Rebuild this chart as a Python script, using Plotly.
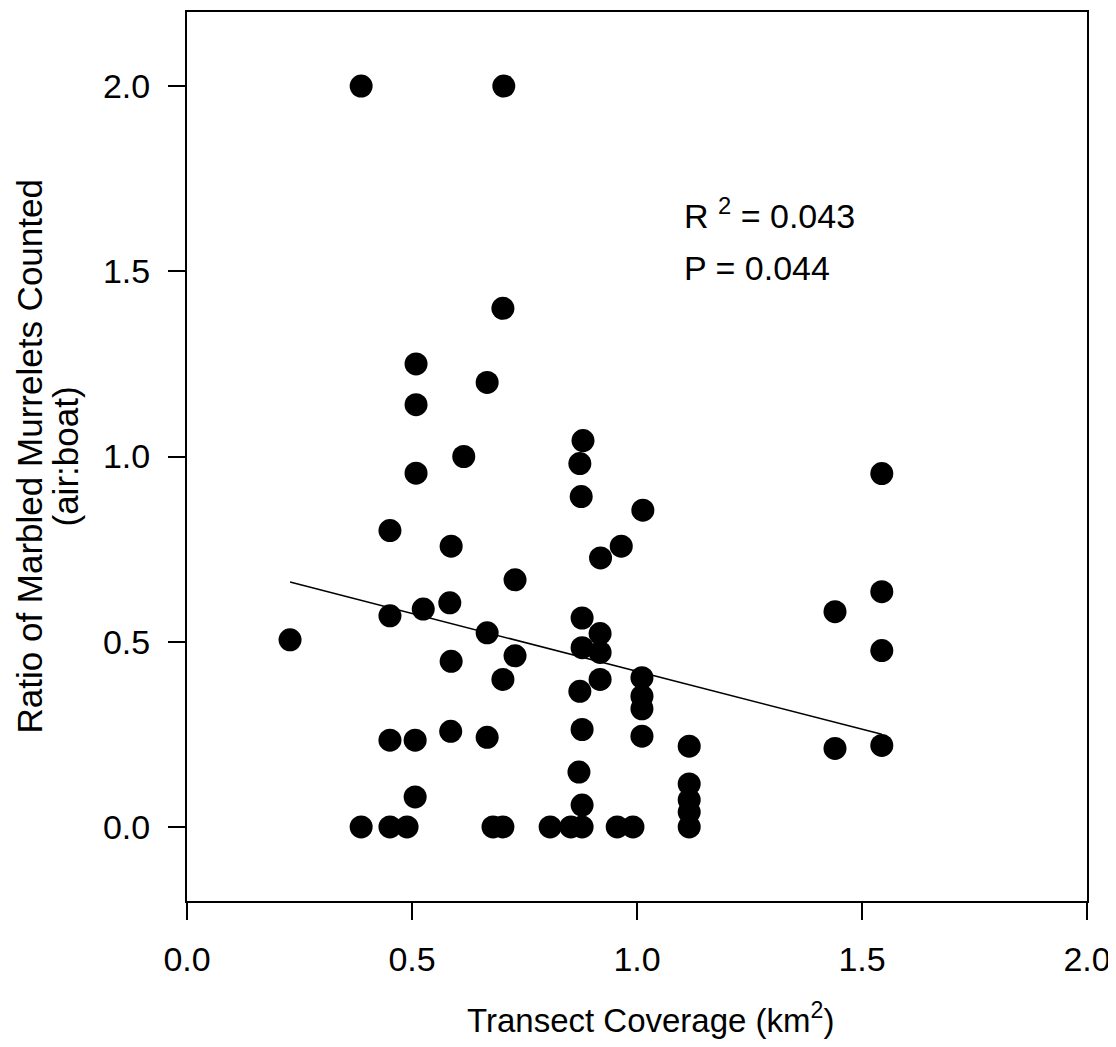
import plotly.graph_objects as go

# Transect coverage (km^2) and ratio of murrelets counted (air:boat)
coverage = [
    0.387, 0.704, 0.702, 0.509, 0.509, 0.667, 0.615, 0.509, 0.451, 0.587,
    0.880, 0.873, 0.876, 1.013, 0.965, 0.919, 0.729, 1.544, 1.544, 1.440,
    1.544, 1.440, 1.544, 0.229, 0.451, 0.525, 0.584, 0.667, 0.587, 0.729,
    0.702, 0.878, 0.918, 0.878, 0.918, 0.918, 0.873, 1.011, 1.011, 1.011,
    1.011, 0.878, 0.451, 0.507, 0.586, 0.667, 1.116, 0.871, 1.116, 1.116,
    1.116, 1.116, 0.878, 0.507,
    0.387, 0.451, 0.489, 0.680, 0.702, 0.807, 0.853, 0.878, 0.956, 0.991,
]
ratio = [
    2.000, 2.000, 1.400, 1.250, 1.140, 1.200, 1.000, 0.955, 0.800, 0.758,
    1.043, 0.981, 0.892, 0.855, 0.758, 0.726, 0.667, 0.954, 0.635, 0.581,
    0.476, 0.212, 0.220, 0.505, 0.570, 0.588, 0.605, 0.524, 0.447, 0.462,
    0.398, 0.564, 0.522, 0.484, 0.471, 0.398, 0.366, 0.403, 0.353, 0.319,
    0.245, 0.263, 0.234, 0.234, 0.258, 0.242, 0.218, 0.148, 0.116, 0.073,
    0.040, 0.000, 0.059, 0.081,
    0.000, 0.000, 0.000, 0.000, 0.000, 0.000, 0.000, 0.000, 0.000, 0.000,
]

# Regression line end points
fit_x = [0.229, 1.544]
fit_y = [0.661, 0.250]

tick_vals = [0.0, 0.5, 1.0, 1.5, 2.0]
tick_text = ["0.0", "0.5", "1.0", "1.5", "2.0"]

stats_lines = ["R <sup>2</sup> = 0.043", "P = 0.044"]
stats_y = [1.655, 1.51]

FONT = "Liberation Sans, Arial, sans-serif"

# page body adds an 8px offset; compensate so the plot area lands at
# x 187..1087, y 10..901 in the screenshot
OFF = 8
W, H = 1116 - OFF, 1047 - OFF
PL, PT, PR, PB = 187, 10, 1087, 901


def px_x(px):
    return (px - PL) / (PR - PL)


def px_y(py):
    return (PB - py) / (PB - PT)


fig = go.Figure()
fig.add_trace(go.Scatter(
    x=fit_x, y=fit_y, mode="lines",
    line=dict(color="black", width=1.5),
    showlegend=False, hoverinfo="skip",
))
fig.add_trace(go.Scatter(
    x=coverage, y=ratio, mode="markers",
    marker=dict(color="black", size=23, line=dict(width=0)),
    showlegend=False,
))

for txt, yy in zip(stats_lines, stats_y):
    fig.add_annotation(
        x=1.1, y=yy, xref="x", yref="y", text=txt, showarrow=False,
        xanchor="left", yanchor="middle",
        font=dict(family=FONT, size=34, color="black"),
    )

# Axis titles
fig.add_annotation(
    xref="paper", yref="paper", x=px_x(29), y=0.5,
    text="Ratio of Marbled Murrelets Counted", textangle=-90,
    showarrow=False, xanchor="center", yanchor="middle",
    font=dict(family=FONT, size=35, color="black"),
)
fig.add_annotation(
    xref="paper", yref="paper", x=px_x(65), y=0.5,
    text="(air:boat)", textangle=-90,
    showarrow=False, xanchor="center", yanchor="middle",
    font=dict(family=FONT, size=35, color="black"),
)
fig.add_annotation(
    xref="paper", yref="paper", x=px_x(650), y=px_y(1018),
    text="Transect Coverage (km<sup>2</sup>)",
    showarrow=False, xanchor="center", yanchor="middle",
    font=dict(family=FONT, size=33, color="black"),
)

axis_common = dict(
    showgrid=False, zeroline=False, showline=True, mirror=True,
    linecolor="black", linewidth=2, ticks="outside", ticklen=17,
    tickwidth=1.5, tickcolor="black",
    tickfont=dict(family=FONT, size=34, color="black"),
    tickvals=tick_vals, ticktext=tick_text,
)

fig.update_layout(
    width=W, height=H,
    margin=dict(l=PL - OFF, r=W - (PR - OFF), t=PT - OFF, b=H - (PB - OFF)),
    paper_bgcolor="white", plot_bgcolor="white",
    xaxis=dict(range=[0, 2], ticklabelstandoff=10, **axis_common),
    yaxis=dict(range=[-0.2, 2.2], ticklabelstandoff=11, **axis_common),
    showlegend=False,
)

fig.write_html("out.html")
